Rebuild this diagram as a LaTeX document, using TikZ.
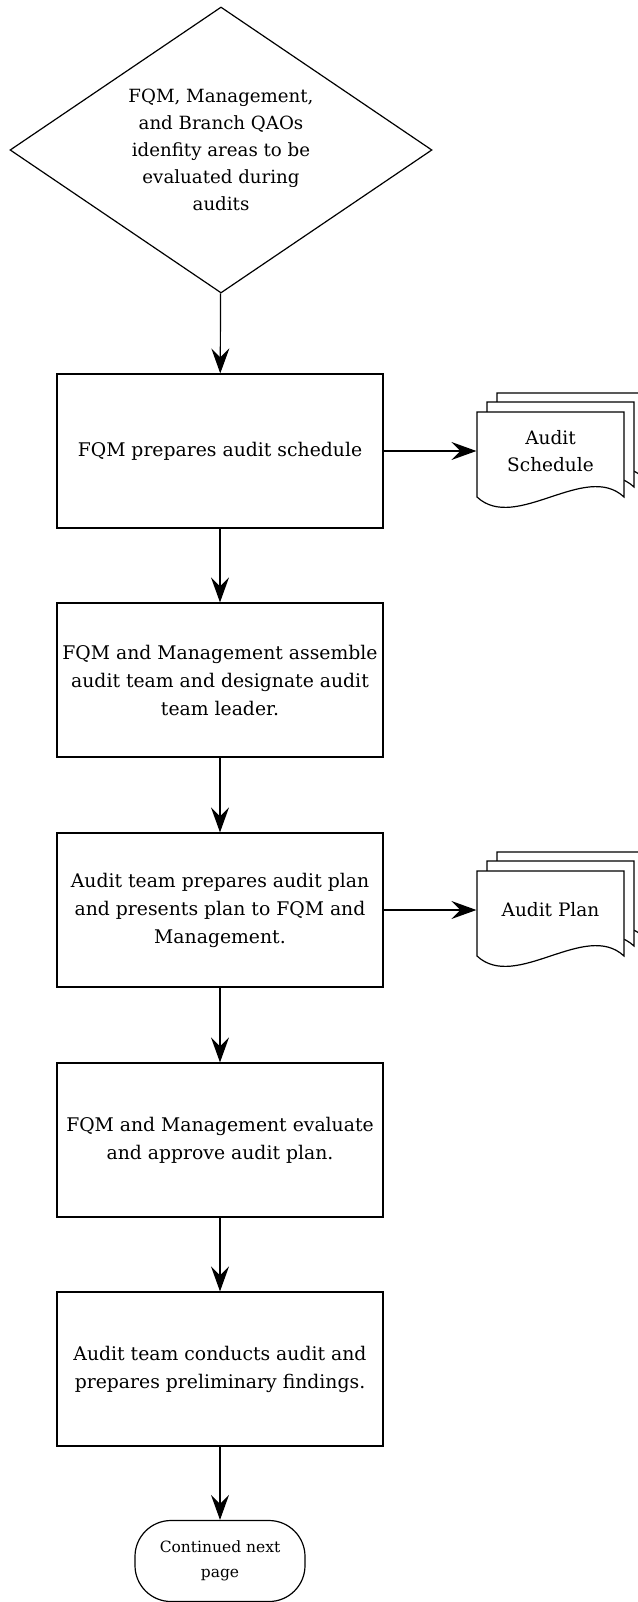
\documentclass[tikz,border=0pt]{standalone}
\usepackage{fontspec}
\setmainfont{DejaVu Serif}
\usetikzlibrary{arrows.meta}
\usetikzlibrary{shapes.geometric}

\tikzset{
  every path/.style={line width=1.2pt},
  process/.style={rectangle, draw, minimum width=326pt, minimum height=154pt, inner sep=0pt, align=center, font=\fontsize{18.8}{28}\selectfont},
  decision/.style={diamond, shape aspect=1.476, draw, minimum width=422pt, minimum height=286pt, inner sep=0pt, align=center, font=\fontsize{18.2}{27}\selectfont},
  terminal/.style={rectangle, rounded corners=36pt, draw, minimum width=170pt, minimum height=81pt, inner sep=0pt, align=center, font=\fontsize{15.5}{25}\selectfont},
  doclabel/.style={rectangle, minimum width=147pt, minimum height=78pt, inner sep=0pt, align=center, font=\fontsize{18.5}{27}\selectfont},
  flow/.style={-{Stealth[length=25pt, width=18pt, inset=9pt]}},
  docstack/.pic={
    \foreach \dx/\dy in {20/-19, 10/-10, 0/0}
      \draw[fill=white] (-73.5+\dx,46+\dy) -- (-73.5+\dx,-39+\dy) -- (73.5+\dx,-39+\dy) -- (73.5+\dx,46+\dy) .. controls (35+\dx,10+\dy) and (-35+\dx,82+\dy) .. cycle;
  }
}

\begin{document}
\begin{tikzpicture}[x=1pt, y=-1pt]
  \useasboundingbox (0,0) rectangle (637,1602);

  \node[decision] (areas) at (221,150) {FQM, Management,\\and Branch QAOs\\idenfity areas to be\\evaluated during\\audits};
  \node[process] (schedule) at (220,451) {FQM prepares audit schedule};
  \node[process] (team) at (220,680) {FQM and Management assemble\\audit team and designate audit\\team leader.};
  \node[process] (plan) at (220,910) {Audit team prepares audit plan\\and presents plan to FQM and\\Management.};
  \node[process] (approve) at (220,1140) {FQM and Management evaluate\\and approve audit plan.};
  \node[process] (conduct) at (220,1369) {Audit team conducts audit and\\prepares preliminary findings.};
  \node[terminal] (next) at (220,1561) {Continued next\\page};

  \pic at (550.5,451) {docstack};
  \node[doclabel] (scheduledoc) at (550.5,451) {Audit\\Schedule};
  \pic at (550.5,910) {docstack};
  \node[doclabel] (plandoc) at (550.5,910) {Audit Plan};

  \draw[flow] (areas) -- (schedule);
  \draw[flow] (schedule) -- (team);
  \draw[flow] (team) -- (plan);
  \draw[flow] (plan) -- (approve);
  \draw[flow] (approve) -- (conduct);
  \draw[flow] (conduct) -- (next);
  \draw[flow] (schedule) -- (scheduledoc);
  \draw[flow] (plan) -- (plandoc);
\end{tikzpicture}
\end{document}
